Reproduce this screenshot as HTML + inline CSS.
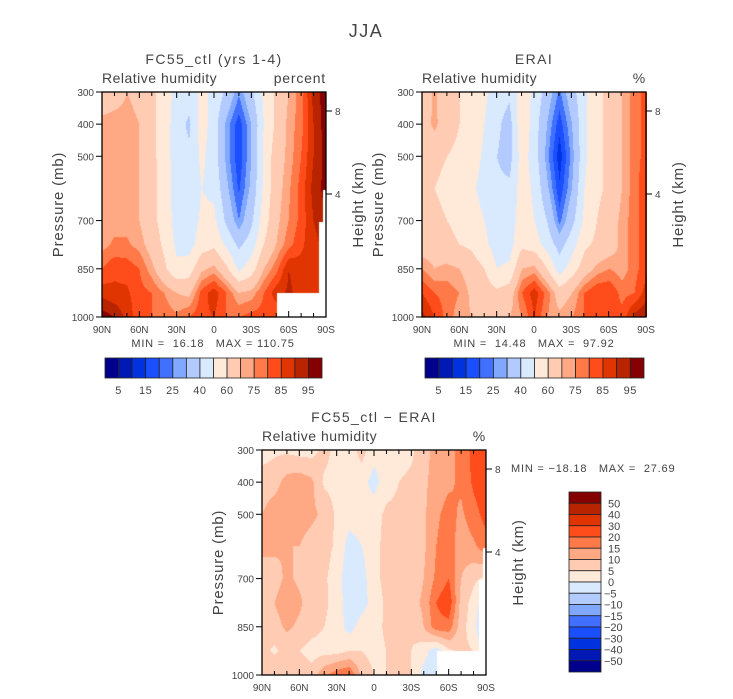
<!DOCTYPE html>
<html><head><meta charset="utf-8"><style>
body{margin:0;background:#fff;}
#wrap{position:relative;width:733px;height:699px;overflow:hidden;font-family:"Liberation Sans",sans-serif;color:#333;}
svg text{font-family:"Liberation Sans",sans-serif;fill:#444;white-space:pre;}
canvas{position:absolute;}
</style></head><body>
<div id="wrap">
<canvas id="c0" width="224" height="225" style="left:102px;top:92px"></canvas>
<canvas id="c1" width="225" height="225" style="left:422px;top:92px"></canvas>
<canvas id="c2" width="224" height="225" style="left:262px;top:450px"></canvas>
<svg id="s" width="733" height="699" style="position:absolute;left:0;top:0"></svg>
</div>
<script>
// ---- data ----
const lats = [90,80,70,60,50,40,30,20,10,0,-10,-20,-30,-40,-50,-60,-70,-80,-90];
const pressures = [300,400,500,600,700,775,850,925,1000];
const fc55 = [
[62,66,70,68,63,55,47,45,52,48,38,26,38,52,62,70,78,92,98],
[73,73,72,70,63,55,45,38,55,45,28,17,30,50,62,72,78,90,98],
[73,73,72,70,63,55,45,42,52,45,28,16,30,52,65,72,80,90,97],
[73,73,72,70,63,56,45,40,50,48,32,19,32,52,66,74,82,92,97],
[71,73,73,70,63,56,46,44,52,52,38,25,38,55,68,75,82,90,95],
[73,76,76,73,66,58,48,46,55,58,48,38,45,60,70,78,84,88,92],
[80,84,83,80,72,62,52,55,68,72,62,48,55,70,78,90,87,85,90],
[88,86,86,82,80,75,70,68,82,88,80,70,72,80,88,91,88,88,90],
[98,95,88,82,80,78,76,80,84,85,80,80,82,82,80,80,80,80,80]];
const erai = [
[60,72,62,60,58,52,45,42,55,48,35,24,36,48,58,62,70,78,82],
[65,72,64,60,58,50,42,36,58,45,30,17,30,48,58,62,70,78,82],
[62,62,60,58,55,48,40,36,55,45,27,12,27,48,58,62,70,78,82],
[60,60,58,56,52,46,42,42,55,48,32,16,30,50,58,62,70,78,84],
[62,62,60,58,55,50,45,45,55,50,40,23,37,52,60,65,72,78,84],
[65,65,62,60,58,52,46,46,58,55,46,36,46,58,62,65,72,78,84],
[75,70,72,70,65,60,50,52,70,72,60,45,55,65,72,75,72,78,84],
[85,80,78,75,68,65,62,65,80,88,78,65,70,80,85,85,78,80,88],
[92,85,78,72,70,68,65,70,75,85,75,72,75,80,82,80,82,92,95]];
const diff = [
[3,4,4,3,3,7,3,2,7,2,2,3,4,8,12,14,16,22,25],
[7,8,12,13,11,4,3,2,2,-2,3,5,6,9,12,14,16,21,24],
[10,13,13,12,11,9,4,2,2,3,6,6,6,9,14,17,14,18,22],
[11,11,10,10,8,7,4,-2,0,3,7,7,6,9,15,18,12,14,18],
[8,8,11,9,7,6,2,-3,-2,3,7,8,7,10,16,20,10,6,4],
[8,10,13,11,7,6,3,-3,-2,2,6,8,8,11,20,24,8,3,-4],
[5,8,11,9,7,5,3,-2,2,3,6,8,6,10,18,18,7,2,-8],
[7,4,7,5,3,3,3,5,5,3,5,7,5,2,-3,4,6,5,-4],
[7,10,5,9,7,14,18,20,9,5,5,7,5,-2,-3,5,8,6,2]];
const rhLevels = [5,10,15,20,25,30,40,50,60,70,75,80,85,90,95];
const rhLabels = ["5","15","25","40","60","75","85","95"];
const diffLevels = [-50,-40,-30,-20,-15,-10,-5,0,5,10,15,20,30,40,50];
const diffLabels = ["50","40","30","20","15","10","5","0","\u22125","\u221210","\u221215","\u221220","\u221230","\u221240","\u221250"];
const xTickLabels = ["90N","60N","30N","0","30S","60S","90S"];
const xTickLats = [90,60,30,0,-30,-60,-90];
const yTickP = [300,400,500,700,850,1000];
const colors = ["#00008c","#0018b4","#0033e0","#1a4fff","#4170ff","#80a8ff","#b3caff","#d9eaff","#ffe9d9","#ffcbb3","#ffa884","#ff7a48","#ff4c1a","#e03500","#b82300","#850000"];

function hex(c){return [parseInt(c.slice(1,3),16),parseInt(c.slice(3,5),16),parseInt(c.slice(5,7),16)];}
const rgb = colors.map(hex);
function masked(lat,p){return (lat<-51&&p>925)||(lat<-84.5&&p>703)||(lat<-87.5&&p>605);}
function sample(grid,lat,p){
  let fx=(90-lat)/10; let i=Math.min(Math.floor(fx),lats.length-2); let tx=fx-i;
  let j=0; while(j<pressures.length-2&&p>pressures[j+1]) j++;
  let ty=(p-pressures[j])/(pressures[j+1]-pressures[j]);
  const a=grid[j][i],b=grid[j][i+1],c=grid[j+1][i],d=grid[j+1][i+1];
  return a*(1-tx)*(1-ty)+b*tx*(1-ty)+c*(1-tx)*ty+d*tx*ty;
}
function drawField(id,grid,levels,useMask){
  const cv=document.getElementById(id),ctx=cv.getContext('2d');
  const W=cv.width,H=cv.height,img=ctx.createImageData(W,H);
  for(let y=0;y<H;y++){const p=300+(y+0.5)/H*700;
    for(let x=0;x<W;x++){const lat=90-(x+0.5)/W*180;const k=(y*W+x)*4;
      if(useMask&&masked(lat,p)){img.data[k]=255;img.data[k+1]=255;img.data[k+2]=255;img.data[k+3]=255;continue;}
      const v=sample(grid,lat,p);let ci=0;while(ci<levels.length&&v>=levels[ci])ci++;
      const c=rgb[ci];img.data[k]=c[0];img.data[k+1]=c[1];img.data[k+2]=c[2];img.data[k+3]=255;}}
  ctx.putImageData(img,0,0);
}
drawField('c0',fc55,rhLevels,true);
drawField('c1',erai,rhLevels,false);
drawField('c2',diff,diffLevels,true);

const svg=document.getElementById('s');const NS='http://www.w3.org/2000/svg';
function el(tag,attrs,txt){const e=document.createElementNS(NS,tag);for(const k in attrs)e.setAttribute(k,attrs[k]);if(txt!==undefined)e.textContent=txt;svg.appendChild(e);return e;}
function txt(x,y,s,size,anchor,name,rot,ls){const t=el('text',{x:x,y:y,'font-size':size,'text-anchor':anchor||'start'},s);
  
  
  if(ls)t.setAttribute('letter-spacing',ls);
  if(rot)t.setAttribute('transform','rotate(-90 '+x+' '+y+')');return t;}

txt(366,37,'JJA',18,'middle','figure-title',false,1.5);
function panel(px,py,title,unit,pre){
  const W=224,H=225;
  const xs=lat=>px+(90-lat)/180*W, ys=p=>py+(p-300)/700*H;
  txt(px+W/2,py-28,title,14,'middle',pre+'-title',false,1.4);
  txt(px,py-9,'Relative humidity',14,'start',pre+'-variable-label',false,0.5);
  txt(px+W,py-9,unit,14,'end',pre+'-unit-label',false,0.8);
  const fr=el('rect',{x:px,y:py,width:W,height:H,fill:'none',stroke:'#000','stroke-width':1.3});
  
  
  for(let l=90;l>=-90;l-=10){const x=xs(l),maj=(l%30===0);const len=maj?6:4;
    const t1=el('line',{x1:x,y1:py,x2:x,y2:py+len,stroke:'#000'});
    
    
    const t2=el('line',{x1:x,y1:py+H,x2:x,y2:py+H-len,stroke:'#000'});
    
    }
  xTickLats.forEach((l,i)=>txt(xs(l),py+H+16,xTickLabels[i],10,'middle',pre+'-x-tick-label'));
  yTickP.forEach(p=>{const y=ys(p);
    const t=el('line',{x1:px-6,y1:y,x2:px,y2:y,stroke:'#000'});
    
    
    txt(px-8,y+4,String(p),10,'end',pre+'-y-tick-label');});
  [[8,19],[4,102]].forEach(h=>{const y=py+h[1];
    const t=el('line',{x1:px+W,y1:y,x2:px+W+6,y2:y,stroke:'#000'});
    
    
    txt(px+W+9,y+4,String(h[0]),10,'start',pre+'-height-tick-label');});
  txt(px-39,py+H/2,'Pressure (mb)',15,'middle',pre+'-y-axis-title',true,0.8);
  txt(px+W+37,py+H/2,'Height (km)',15,'middle',pre+'-height-axis-title',true,0.8);
}
panel(102,92,'FC55_ctl (yrs 1-4)','percent','fc55');
panel(422,92,'ERAI','%','erai');
panel(262,450,'FC55_ctl \u2212 ERAI','%','diff');

txt(213,347,'MIN =  16.18   MAX = 110.75',11,'middle','fc55-min-max',false,0.8);
txt(534,347,'MIN =  14.48   MAX =  97.92',11,'middle','erai-min-max',false,0.8);
txt(511,472,'MIN = \u221218.18   MAX =  27.69',11,'start','diff-min-max',false,0.8);

function hbar(x0,x1,y0,h,pre){const w=(x1-x0)/16;
  colors.forEach((c,i)=>{const r=el('rect',{x:x0+i*w,y:y0,width:w,height:h,fill:c,stroke:'#222','stroke-width':0.8});
    
    });
  rhLabels.forEach((s,i)=>txt(x0+(2*i+1)*w,y0+h+16,s,11,'middle',pre+'-colorbar-label',false,0.6));}
hbar(105,322,358,20,'fc55');
hbar(425,644,358,20,'erai');
(function(){const x0=569,y0=492,w=32,h=(672-492)/16;
  colors.slice().reverse().forEach((c,i)=>{const r=el('rect',{x:x0,y:y0+i*h,width:w,height:h,fill:c,stroke:'#222','stroke-width':0.8});
    
    });
  diffLabels.forEach((s,i)=>txt(s[0]==='\u2212'?604:608,y0+(i+1)*h+4,s,11,'start','diff-colorbar-label'));})();
</script>
</body></html>
